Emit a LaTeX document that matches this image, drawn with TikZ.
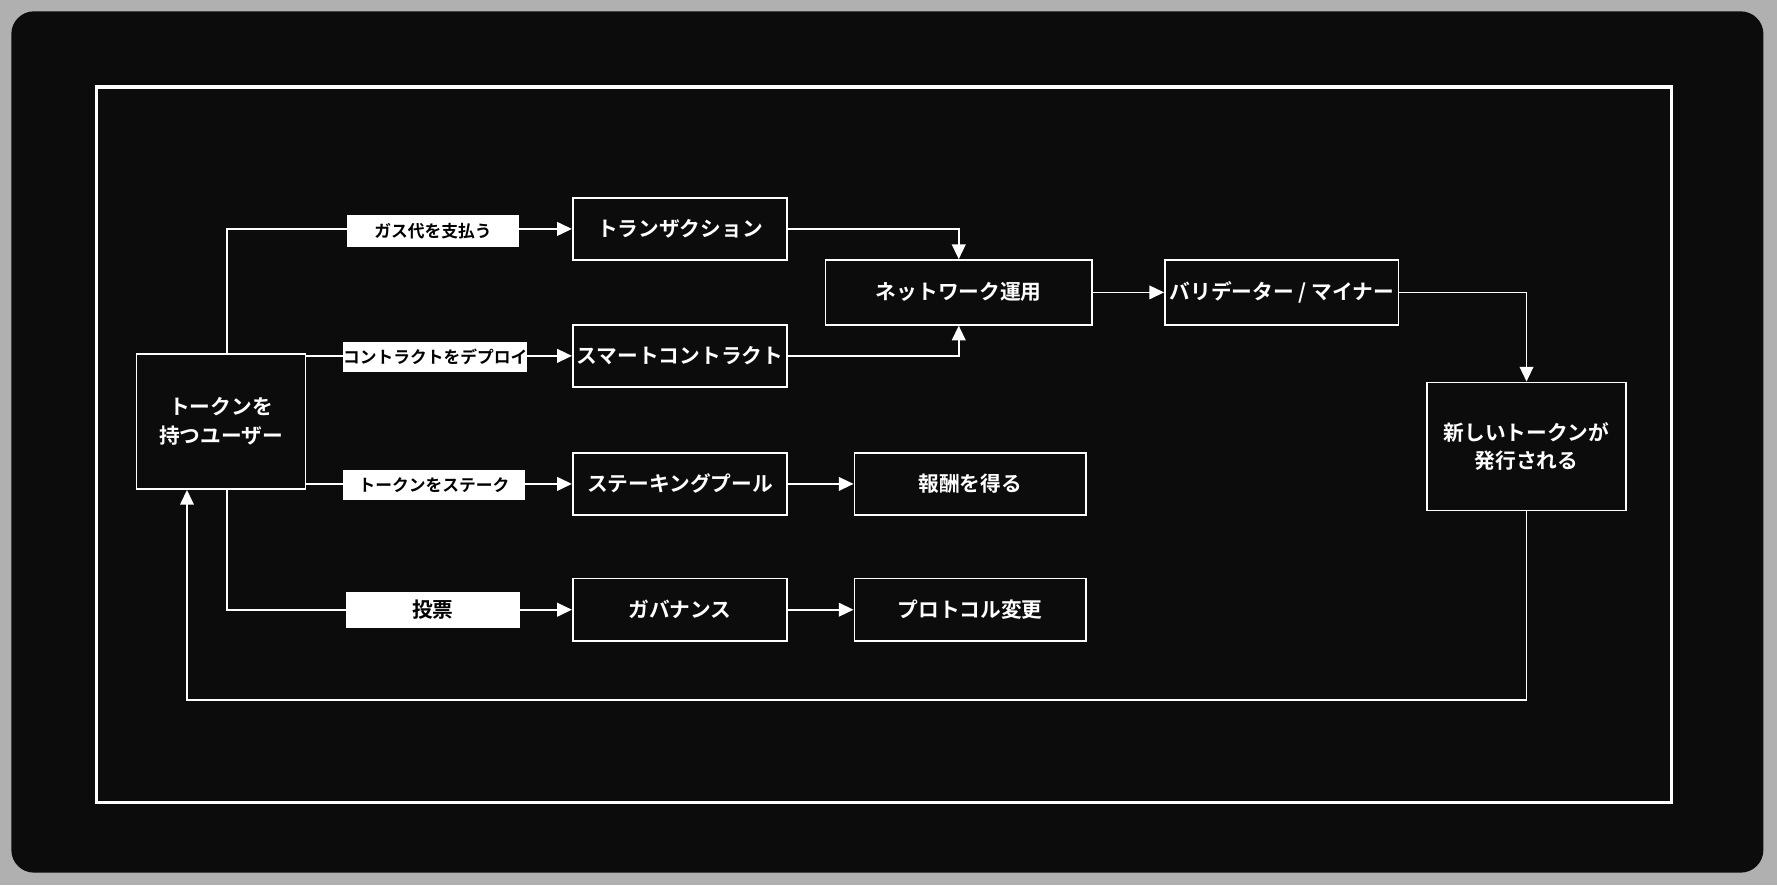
\documentclass[tikz,border=0pt]{standalone}
\usepackage{fontspec}
\newfontfamily\jp{Noto Sans CJK JP}[BoldFont={* Bold}]
\usetikzlibrary{positioning,calc}
\usetikzlibrary{arrows.meta}
\definecolor{bggray}{RGB}{176, 176, 176}
\definecolor{panel}{RGB}{12, 12, 12}
\tikzstyle{box}=[draw=white, line width=0.45pt, text=white, align=center, font=\jp\bfseries\fontsize{5.2}{7.2}\selectfont, inner sep=0pt]
\tikzstyle{tag}=[fill=white, text=black, font=\jp\bfseries\fontsize{4.2}{6}\selectfont, inner sep=0pt]
\tikzstyle{link}=[-{Triangle[length=0.13cm, width=0.12cm]}, white, line width=0.45pt]

\begin{document}
\begin{tikzpicture}[x=0.01cm, y=-0.01cm]
    \fill[bggray] (0,0) rectangle (1568,781);
    \fill[panel, rounded corners=0.2cm] (10,10) rectangle (1556,770);
    \draw[white, line width=0.9pt] (85,77) rectangle (1475,708);

    \node[box, minimum width=1.49cm, minimum height=1.19cm] (user) at (195,372) {トークンを\\持つユーザー};
    \node[box, minimum width=1.89cm, minimum height=0.55cm] (trans) at (600,202) {トランザクション};
    \node[box, minimum width=1.89cm, minimum height=0.55cm] (smart) at (600,314) {スマートコントラクト};
    \node[box, minimum width=1.89cm, minimum height=0.55cm] (stake) at (600,427) {ステーキングプール};
    \node[box, minimum width=1.89cm, minimum height=0.55cm] (gov) at (600,538) {ガバナンス};
    \node[box, minimum width=2.35cm, minimum height=0.57cm] (net) at (846,258) {ネットワーク運用};
    \node[box, minimum width=2.06cm, minimum height=0.57cm] (valid) at (1131,258) {バリデーター / マイナー};
    \node[box, minimum width=1.76cm, minimum height=1.13cm] (newtok) at (1347,394) {新しいトークンが\\発行される};
    \node[box, minimum width=2.04cm, minimum height=0.55cm] (reward) at (856,427) {報酬を得る};
    \node[box, minimum width=2.04cm, minimum height=0.55cm] (proto) at (856,538) {プロトコル変更};

    \coordinate (c1) at (200,204);
    \coordinate (c2) at (200,538);
    \coordinate (c3) at (165,618);
    \coordinate (c4) at (1347,618);

    % user to services
    \draw[link] (user.north -| c1) |- (trans.west);
    \draw[link] (user.east |- smart) -- (smart.west);
    \draw[link] (user.east |- stake) -- (stake.west);
    \draw[link] (user.south -| c2) |- (gov.west);
    \node[tag, minimum width=1.52cm, minimum height=0.28cm] (pay) at (382,204) {ガス代を支払う};
    \node[tag, minimum width=1.62cm, minimum height=0.27cm] (deploy) at (384,315) {コントラクトをデプロイ};
    \node[tag, minimum width=1.6cm, minimum height=0.27cm] (stk) at (383,428) {トークンをステーク};
    \node[tag, minimum width=1.53cm, minimum height=0.32cm, font=\jp\bfseries\fontsize{5.2}{7}\selectfont] (vote) at (382,538) {投票};

    % network
    \draw[link] (trans.east) -| (net.north);
    \draw[link] (smart.east) -| (net.south);
    \draw[link] (net) -- (valid);
    \draw[link] (valid.east) -| (newtok.north);
    \draw[link] (stake) -- (reward);
    \draw[link] (gov) -- (proto);
    \draw[link] (newtok.south) -- (c4) -- (c3) -- (c3 |- user.south);
\end{tikzpicture}
\end{document}
